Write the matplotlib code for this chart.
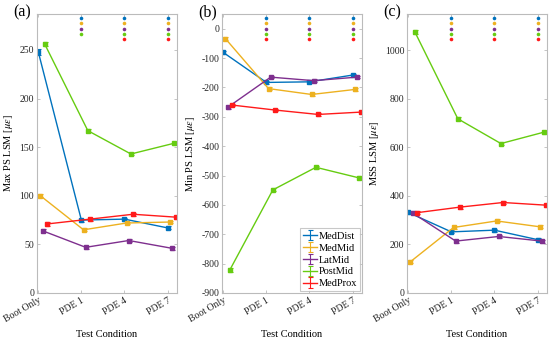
import matplotlib
matplotlib.use("Agg")
import matplotlib.pyplot as plt
import numpy as np

plt.rcParams['font.family'] = ['Liberation Serif', 'DejaVu Serif']
plt.rcParams['mathtext.fontset'] = 'stix'
plt.rcParams['axes.unicode_minus'] = False

conditions = ["Boot Only", "PDE 1", "PDE 4", "PDE 7"]
series = ["MedDist", "MedMid", "LatMid", "PostMid", "MedProx"]
colors = ["#0072BD", "#EDB120", "#7E2F8E", "#66CC11", "#FF1A1A"]

max_ps = {
    "MedDist": [248, 75, 76, 67],
    "MedMid": [100, 65, 72, 73],
    "LatMid": [64, 47, 54, 46],
    "PostMid": [256, 167, 143, 154],
    "MedProx": [71, 76, 81, 78],
}
max_ps_err = {
    "MedDist": [3, 1.5, 1.5, 1.5],
    "MedMid": [1.5, 1.5, 1.5, 1.5],
    "LatMid": [1.5, 1.5, 1.5, 1.5],
    "PostMid": [2, 1.5, 1.5, 1.5],
    "MedProx": [2, 1.5, 1.5, 1.5],
}
min_ps = {
    "MedDist": [-81, -183, -181, -158],
    "MedMid": [-34, -204, -224, -207],
    "LatMid": [-268, -165, -177, -165],
    "PostMid": [-822, -549, -472, -508],
    "MedProx": [-260, -277, -292, -284],
}
min_ps_err = {
    "MedDist": [4, 4, 4, 4],
    "MedMid": [4, 4, 4, 4],
    "LatMid": [4, 4, 4, 4],
    "PostMid": [6, 5, 5, 5],
    "MedProx": [4, 4, 4, 4],
}
mss = {
    "MedDist": [332, 252, 259, 220],
    "MedMid": [129, 270, 297, 273],
    "LatMid": [330, 214, 233, 214],
    "PostMid": [1077, 718, 616, 663],
    "MedProx": [331, 354, 373, 362],
}
mss_err = {
    "MedDist": [6, 6, 6, 6],
    "MedMid": [6, 6, 6, 6],
    "LatMid": [6, 6, 6, 6],
    "PostMid": [8, 6, 6, 6],
    "MedProx": [6, 6, 6, 6],
}
# significance markers: which series are significant at PDE 1, PDE 4, PDE 7
sig_a = {"PDE 1": ["MedDist", "MedMid", "LatMid", "PostMid"],
         "PDE 4": series, "PDE 7": series}
sig_b = {"PDE 1": series, "PDE 4": series, "PDE 7": series}
sig_c = {"PDE 1": series, "PDE 4": series, "PDE 7": series}

panels = [
    ("(a)", max_ps, max_ps_err, sig_a, "Max PS LSM [$\\mu\\epsilon$]", (0, 287), np.arange(0, 251, 50)),
    ("(b)", min_ps, min_ps_err, sig_b, "Min PS LSM [$\\mu\\epsilon$]", (-900, 50), np.arange(-900, 1, 100)),
    ("(c)", mss, mss_err, sig_c, "MSS LSM [$\\mu\\epsilon$]", (0, 1150), np.arange(0, 1001, 200)),
]

fig = plt.figure(figsize=(5.5, 3.39), dpi=100)
lefts = [37 / 550, 222 / 550, 407 / 550]
width = 140 / 550
bottom = 1 - 293 / 339
height = 279 / 339
offsets = [0.0, 0.05, 0.1, 0.15, 0.2]
xs = np.arange(1, len(conditions) + 1)
spine_c = "#BBBBBB"

for i, (tag, data, err, sig, ylab, ylim, yt) in enumerate(panels):
    ax = fig.add_axes([lefts[i], bottom, width, height])
    for s, c, off in zip(series, colors, offsets):
        ax.errorbar(xs + off, data[s], yerr=err[s], color=c, lw=1.0, marker='s',
                    ms=2.3, capsize=1.8, elinewidth=0.8, capthick=0.8)
    for cond, names in sig.items():
        xi = conditions.index(cond) + 1
        for k, s in enumerate(series):
            if s in names:
                ax.plot(xi, 0.985 - 0.0185 * k, 'o', ms=2.6, color=colors[k],
                        transform=ax.get_xaxis_transform(), clip_on=False, mec='none')
    ax.set_xlim(0.97, 4.22)
    ax.set_ylim(*ylim)
    ax.set_yticks(yt)
    ax.set_xticks(xs)
    ax.set_xticklabels(conditions, rotation=30, ha='right', rotation_mode='anchor')
    ax.tick_params(direction='in', length=2.5, width=0.6, top=True, right=True,
                   labelsize=7, colors='#262626', pad=2)
    ax.tick_params(axis='both', color=spine_c)
    for sp in ax.spines.values():
        sp.set_color(spine_c)
        sp.set_linewidth(0.8)
    ax.set_ylabel(ylab, fontsize=7.5, labelpad=3)
    ax.set_xlabel("Test Condition", fontsize=7.5, labelpad=4)
    fig.text(lefts[i] - 24 / 550, 1 - 12 / 339, tag, fontsize=11.5, va='center', ha='left')
    if i == 1:
        handles = []
        for s, c in zip(series, colors):
            h = ax.errorbar([np.nan], [np.nan], yerr=[1], color=c, lw=1.0,
                            capsize=1.8, elinewidth=0.8, capthick=0.8, label=s)
            handles.append(h)
        leg = ax.legend(handles=handles, loc='lower right', fontsize=7.5, frameon=True,
                        fancybox=False, borderpad=0.3, labelspacing=0.25,
                        handlelength=1.3, handletextpad=0.2, borderaxespad=0.15)
        leg.get_frame().set_edgecolor(spine_c)
        leg.get_frame().set_linewidth(0.8)

fig.savefig("out.png", dpi=100)
